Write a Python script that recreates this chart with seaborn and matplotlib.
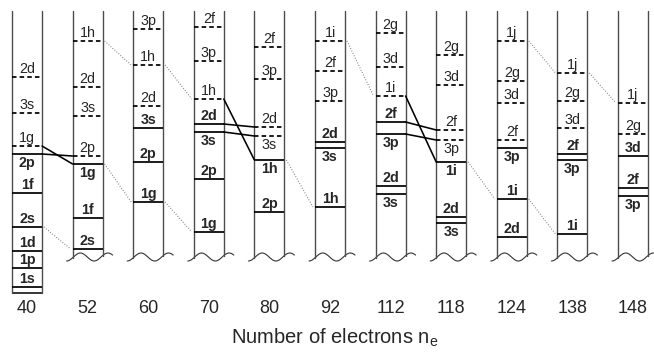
import numpy as np
import seaborn as sns
import matplotlib.pyplot as plt

# number of electrons for each level scheme (one column each)
electrons = [40, 52, 60, 70, 80, 92, 112, 118, 124, 138, 148]

# single-particle levels per column: (name, energy position, filled?)
# position grows downwards (deeper bound)
lv_40 = [("2d", 77, 0), ("3s", 113, 0), ("1g", 146, 0), ("2p", 154, 1), ("1f", 193, 1),
         ("2s", 227, 1), ("1d", 251, 1), ("1p", 268, 1), ("1s", 287, 1)]
lv_52 = [("1h", 41, 0), ("2d", 87, 0), ("3s", 116, 0), ("2p", 156, 0), ("1g", 164, 1),
         ("1f", 218, 1), ("2s", 249, 1)]
lv_60 = [("3p", 29, 0), ("1h", 65, 0), ("2d", 106, 0), ("3s", 128, 1), ("2p", 162, 1),
         ("1g", 202, 1)]
lv_70 = [("2f", 27, 0), ("3p", 61, 0), ("1h", 99, 0), ("2d", 124, 1), ("3s", 132, 1),
         ("2p", 179, 1), ("1g", 232, 1)]
lv_80 = [("2f", 47, 0), ("3p", 79, 0), ("2d", 127, 0), ("3s", 136, 0), ("1h", 160, 1),
         ("2p", 212, 1)]
lv_92 = [("1i", 41, 0), ("2f", 71, 0), ("3p", 101, 0), ("2d", 142, 1), ("3s", 148, 1),
         ("1h", 207, 1)]
lv_112 = [("2g", 33, 0), ("3d", 67, 0), ("1i", 96, 0), ("2f", 122, 1), ("3p", 134, 1),
          ("2d", 186, 1), ("3s", 194, 1)]
lv_118 = [("2g", 55, 0), ("3d", 85, 0), ("2f", 130, 0), ("3p", 140, 0), ("1i", 162, 1),
          ("2d", 217, 1), ("3s", 223, 1)]
lv_124 = [("1j", 41, 0), ("2g", 81, 0), ("3d", 103, 0), ("2f", 140, 0), ("3p", 148, 1),
          ("1i", 199, 1), ("2d", 237, 1)]
lv_138 = [("1j", 73, 0), ("2g", 101, 0), ("3d", 128, 0), ("2f", 154, 1), ("3p", 160, 1),
          ("1i", 234, 1)]
lv_148 = [("1j", 103, 0), ("2g", 134, 0), ("3d", 156, 1), ("2f", 188, 1), ("3p", 196, 1)]

columns = [lv_40, lv_52, lv_60, lv_70, lv_80, lv_92, lv_112, lv_118, lv_124, lv_138, lv_148]

# level crossings drawn as solid links to the next column: (column index, level)
crossings = [(0, "1g"), (0, "2p"), (3, "1h"), (3, "2d"), (3, "3s"),
             (6, "1i"), (6, "2f"), (6, "3p")]
# dotted guide links to the next column
guides = [(0, "2s"), (1, "1h"), (1, "1g"), (2, "1h"), (2, "1g"), (4, "1h"),
          (5, "1i"), (7, "1i"), (8, "1j"), (8, "1i"), (9, "1j")]

sns.set_theme(style="white")
plt.rcParams['font.family'] = ['Liberation Sans', 'DejaVu Sans']

fig = plt.figure(figsize=(6.54, 3.54), dpi=100)
ax = fig.add_axes([0, 58 / 354, 1, 296 / 354])
px = 1 / 60.6           # one pixel in column units
half = 15 * px          # half width of a column
top = 11
ax.set_xlim(-27 * px, 627 * px)
ax.set_ylim(296, 0)

dash = (0, (2.6, 1.8))
for i, lv in enumerate(columns):
    left, right = i - half, i + half
    if i == 0:
        yl = yr = 293
        ax.plot([left, right], [293, 293], color="black", lw=1.1, solid_capstyle="butt")
    else:
        wx = np.linspace(left - 6 * px, right + 10 * px, 60)
        t = (wx - wx[0]) / (wx[-1] - wx[0])
        wy = 257 + 4 * np.cos(2 * np.pi * 1.67 * t)
        ax.plot(wx, wy, color="#333333", lw=0.8)
        yl, yr = np.interp(left, wx, wy), np.interp(right, wx, wy)
    ax.plot([left, left], [top, yl], color="#4d4d4d", lw=1.0)
    ax.plot([right, right], [top, yr], color="#4d4d4d", lw=1.0)

    prev_bottom = top
    for name, y, filled in sorted(lv, key=lambda r: r[1]):
        ax.plot([left, right], [y, y], color="black", lw=1.25,
                linestyle="-" if filled else dash, solid_capstyle="butt")
        if y - prev_bottom >= 13:
            ax.text(i, y - 1.2, name, ha="center", va="bottom", fontsize=10.3,
                    fontweight="bold" if filled else "normal")
            prev_bottom = y
        else:
            ax.text(i, y + 2, name, ha="center", va="top", fontsize=10.3,
                    fontweight="bold" if filled else "normal")
            prev_bottom = y + 15


def level(i, name):
    return dict((n, y) for n, y, _ in columns[i])[name]


for i, name in crossings:
    ax.plot([i + half, i + 1 - half], [level(i, name), level(i + 1, name)],
            color="black", lw=1.15)
for i, name in guides:
    ax.plot([i + half + 2 * px, i + 1 - half - 2 * px], [level(i, name), level(i + 1, name)],
            color="#777777", lw=0.8, linestyle=(0, (0.8, 1.6)))

ax.set_xticks(range(len(electrons)), [str(n) for n in electrons])
ax.set_yticks([])
ax.tick_params(axis="x", length=0, pad=3, labelsize=13)
ax.set_xlabel("Number of electrons n$_\\mathregular{e}$", fontsize=14.5)
ax.xaxis.set_label_coords(335 / 654, -0.105)
sns.despine(ax=ax, left=True, bottom=True)
ax.patch.set_alpha(0)

fig.savefig("out.png", dpi=100)
